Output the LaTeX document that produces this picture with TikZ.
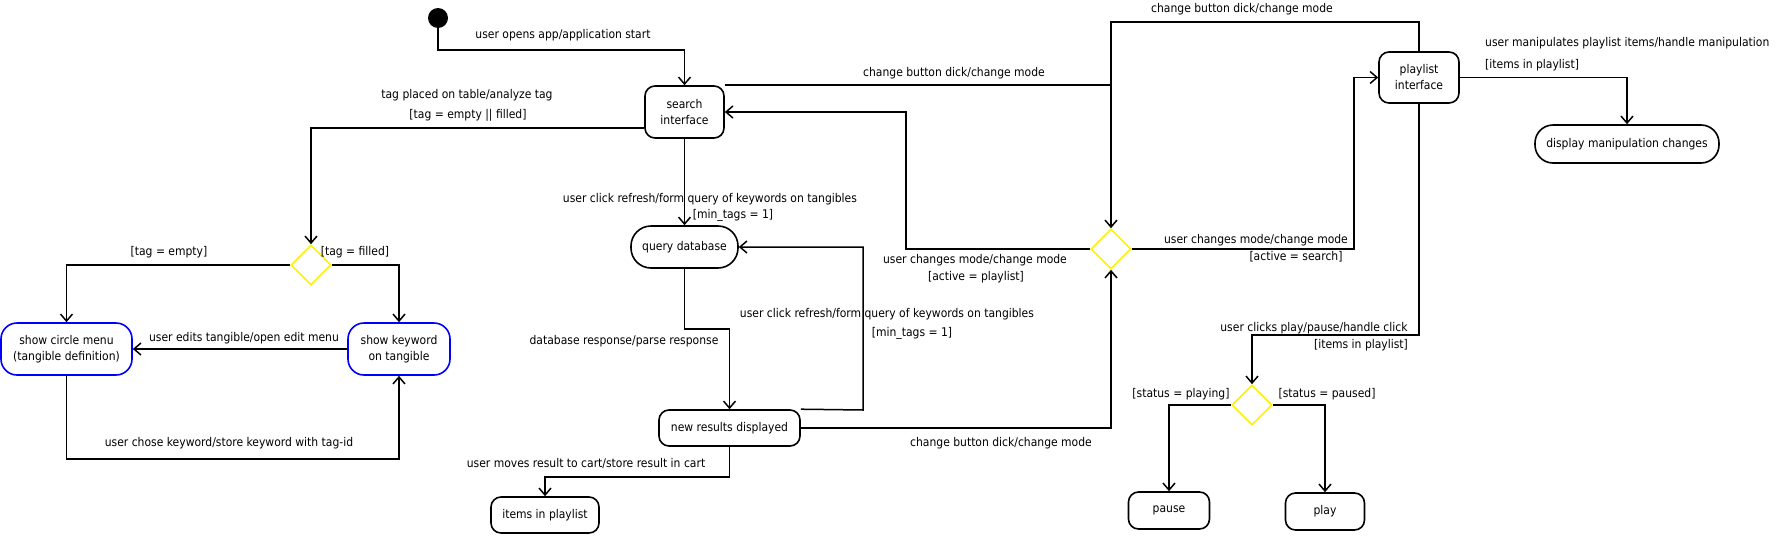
\documentclass[tikz,border=0pt]{standalone}
\usepackage{fontspec}
\setmainfont{DejaVu Sans Condensed}
\usetikzlibrary{shapes.geometric,arrows.meta}
\tikzset{
  every node/.append style={font=\fontsize{12}{16}\selectfont},
  conn/.style={line width=1.5pt, draw=black},
  arr/.style={conn, -{Straight Barb[length=7pt,width=12pt,line width=1.5pt]}},
  state/.style={draw=black, line width=1.6pt, rounded corners=10pt, align=center, inner sep=0pt},
  bstate/.style={draw=blue, line width=1.6pt, rounded corners=16pt, align=center, inner sep=0pt},
  dia/.style={diamond, draw=yellow, line width=1.6pt, minimum width=40pt, minimum height=40pt, inner sep=0pt},
  lbl/.style={inner sep=0pt}
}
\begin{document}
\begin{tikzpicture}[x=1pt,y=-1pt]
\useasboundingbox (0,0) rectangle (1781,536);
% nodes
\node[circle, fill=black, minimum size=20pt, inner sep=0pt] (init) at (438,18) {};
\node[state, minimum width=79pt, minimum height=52pt] (search) at (684.5,112) {search\\interface};
\node[state, minimum width=107pt, minimum height=42pt, rounded corners=20pt] (qdb) at (684.5,247) {query database};
\node[state, minimum width=141pt, minimum height=36pt] (newres) at (729.5,428) {new results displayed};
\node[state, minimum width=108pt, minimum height=36pt] (items) at (545,515) {items in playlist};
\node[dia] (dT) at (311,265) {};
\node[bstate, minimum width=131pt, minimum height=52pt] (circ) at (66.5,349) {show circle menu\\(tangible definition)};
\node[bstate, minimum width=102pt, minimum height=52pt] (kw) at (399,349) {show keyword\\on tangible};
\node[dia] (dM) at (1111,249) {};
\node[state, minimum width=80pt, minimum height=51pt] (pl) at (1419,77.5) {playlist\\interface};
\node[state, minimum width=184pt, minimum height=38pt, rounded corners=18pt] (disp) at (1627,144) {display manipulation changes};
\node[dia] (dP) at (1252,405) {};
\node[state, minimum width=81pt, minimum height=37pt] (pause) at (1169,510.5) {pause};
\node[state, minimum width=79pt, minimum height=37pt] (play) at (1325,511.5) {play};
% connectors
\draw[arr] (init) -- (438,50) -| (search);
\draw[conn] (search.north east) -- (search.north east -| dM);
\draw[arr] (pl.north) -- (pl.north |- 0,22) -| (dM);
\draw[arr] (dM.west) -- (906,249) |- (search.east);
\draw[arr] (dM.east) -- (1354,249) |- (pl.west);
\draw[arr] (pl.east) -| (disp.north);
\draw[arr] (pl.south) -- (1419,335) -| (dP.north);
\draw[arr] (dP.west) -| (pause.north);
\draw[arr] (dP.east) -| (play.north);
\draw[arr] (search) -- (qdb);
\draw[arr] (qdb.south) -- (684.5,329) -| (newres.north);
\draw[arr] (newres.north east) -- (863,410) |- (qdb.east);
\draw[arr] (newres.east) -| (dM.south);
\draw[arr] (newres.south) -- (729.5,477) -| (items.north);
\draw[arr] (search.west |- 0,128) -| (dT.north);
\draw[arr] (dT.west) -| (circ.north);
\draw[arr] (dT.east) -| (kw.north);
\draw[arr] (kw.west) -- (circ.east);
\draw[arr] (circ.south) -- (66.5,459) -| (kw.south);
% labels
\node[lbl] (l1) at (563,35) {user opens app/application start};
\node[lbl] (l2) at (954,73) {change button dick/change mode};
\node[lbl] (l3) at (1242,9) {change button dick/change mode};
\node[lbl] (l4) at (975,260) {user changes mode/change mode};
\node[lbl] (l5) at (976,277) {[active = playlist]};
\node[lbl] (l6) at (1256,240) {user changes mode/change mode};
\node[lbl] (l7) at (1296,257) {[active = search]};
\node[lbl, anchor=west] (l8) at (1485,43) {user manipulates playlist items/handle manipulation};
\node[lbl, anchor=west] (l9) at (1485,65) {[items in playlist]};
\node[lbl] (l10) at (1314,328) {user clicks play/pause/handle click};
\node[lbl] (l11) at (1361,345) {[items in playlist]};
\node[lbl] (l12) at (1181,394) {[status = playing]};
\node[lbl] (l13) at (1327,394) {[status = paused]};
\node[lbl] (l14) at (710,199) {user click refresh/form query of keywords on tangibles};
\node[lbl] (l15) at (733,215) {[min\_tags = 1]};
\node[lbl] (l16) at (624,341) {database response/parse response};
\node[lbl] (l17) at (887,314) {user click refresh/form query of keywords on tangibles};
\node[lbl] (l18) at (912,333) {[min\_tags = 1]};
\node[lbl] (l19) at (1001,443) {change button dick/change mode};
\node[lbl] (l20) at (586,463) {user moves result to cart/store result in cart};
\node[lbl] (l21) at (467,95) {tag placed on table/analyze tag};
\node[lbl] (l22) at (468,115) {[tag = empty || filled]};
\node[lbl] (l23) at (169,252) {[tag = empty]};
\node[lbl] (l24) at (355,252) {[tag = filled]};
\node[lbl] (l25) at (244,338) {user edits tangible/open edit menu};
\node[lbl] (l26) at (229,443) {user chose keyword/store keyword with tag-id};
\end{tikzpicture}
\end{document}
